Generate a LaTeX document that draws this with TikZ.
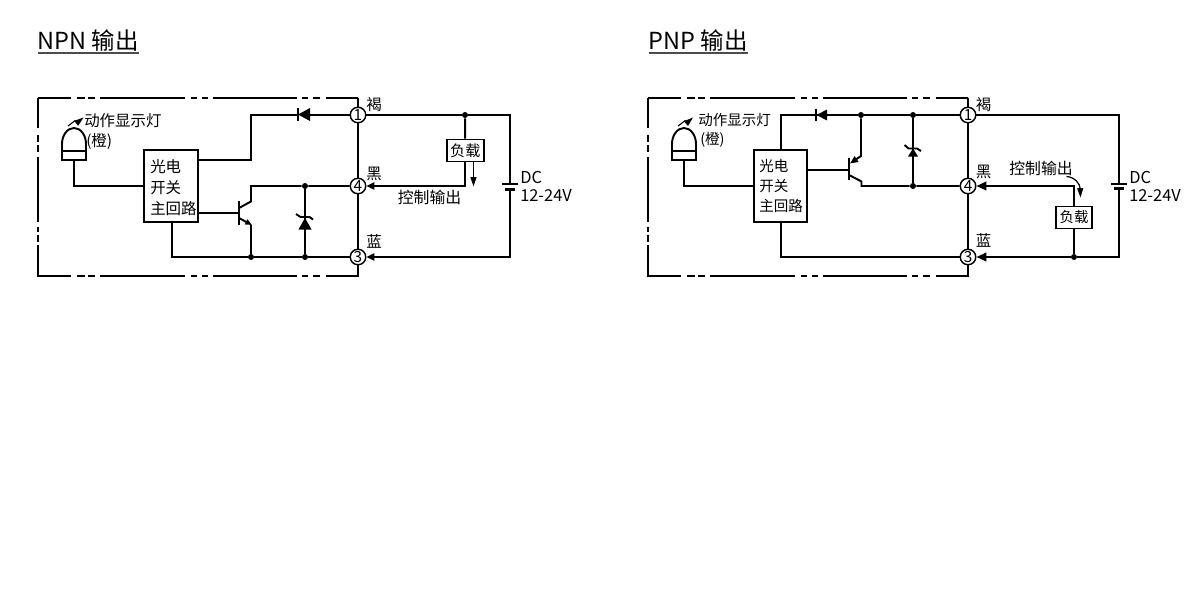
\documentclass[tikz,border=0pt]{standalone}
\usepackage{fontspec}
\setmainfont{Noto Sans CJK SC}
\usetikzlibrary{arrows.meta}
\tikzset{
	wire/.style = {line width=1.45pt, line join=miter},
	wiretip/.style = {wire, -{Triangle[length=6pt,width=5.5pt]}},
	thintip/.style = {line width=0.9pt, -{Triangle[length=7pt,width=4.5pt]}},
	framepart/.style = {line width=1.45pt},
	term/.style = {draw, circle, fill=white, line width=1.1pt, minimum size=15.5*0.75pt, inner sep=0pt, font=\fontsize{11.5}{12}\selectfont},
	dot/.style = {circle, fill=black, minimum size=4.5pt, inner sep=0pt},
	box/.style = {draw, line width=1.45pt, fill=white, inner sep=0pt},
	lbl/.style = {inner sep=0pt, font=\fontsize{11.6}{13}\selectfont},
	lblp/.style = {inner sep=0pt, font=\fontsize{10.9}{13}\selectfont},
	lblout/.style = {inner sep=0pt, font=\fontsize{11.9}{13}\selectfont},
	lbldc/.style = {inner sep=0pt, anchor=west, font=\fontsize{12.3}{13}\selectfont},
	heading/.style = {inner sep=0pt, anchor=base west, font=\fontsize{17.6}{20}\selectfont},
}
\begin{document}
\begin{tikzpicture}[x=0.75pt,y=-0.75pt]
	\useasboundingbox (0,0) rectangle (1200,600);
	% frames
	\foreach \dx in {0,610} {
		\begin{scope}[shift={(\dx,0)}]
			\foreach \a/\b in {38/71,77/85,88/95,100/185,191/197,202/208,213/297,302/308,313/320,326/358} {
				\draw[framepart] (\a,98) -- (\b,98);
				\draw[framepart] (\a,276) -- (\b,276);
			}
			\foreach \a/\b in {97.5/128,135/142,145/152,157/222,227/232,235/242,245/276.5}
				\draw[framepart] (38,\a) -- (38,\b);
			\draw[framepart] (358,97.5) -- (358,276.5);
		\end{scope}
	}

	% NPN
	\node[heading] (titleA) at (37.5,49) {NPN 输出};
	\draw[line width=1pt, black!70] ([yshift=-3pt]titleA.base west) -- ([yshift=-3pt]titleA.base east);

	\node[term] (a1) at (358,115) {1};
	\node[term] (a4) at (358,186) {4};
	\node[term] (a3) at (358,257) {3};
	\node[lbl] (aBrown) at (374,105) {褐};
	\node[lbl] (aBlack) at (374,173.5) {黑};
	\node[lbl] (aBlue) at (374,241) {蓝};
	\node[box, minimum width=40pt, minimum height=54pt] (aMain) at (171,186) {};
	\node[lbl, anchor=west] (aT1) at (150,166.5) {光电};
	\node[lbl, anchor=west] (aT2) at (150,187.5) {开关};
	\node[lbl, anchor=west] (aT3) at (150,208.5) {主回路};
	\node[lbl, anchor=west] (aLed) at (84,121) {动作显示灯};
	\node[lbl, anchor=west] (aOrange) at (86,142) {(橙)};
	% lamp
	\draw[wire] (62,160) -- (62,144) arc (180:360:12 and 16) -- (86,160) -- cycle;
	\draw[wire] (62,151) -- (86,151);
	\coordinate (aLamp) at (74,160);
	\draw[wire] (aLamp) |- (aMain.west);
	\draw[thintip, line width=0.8pt] (68,126) -- (75,120.7) -- (77,122.7) -- (83.5,117.5);
	% diode
	\coordinate (aBend) at (251,115);
	\coordinate (aDiodeK) at (298,115);
	\coordinate (aDiodeA) at (310,115);
	\draw[wire] (aMain.east |- 0,160) -- (251,160) -- (aBend) -- (aDiodeK);
	\draw[wire] (aDiodeA) -- (a1);
	\draw[line width=1.5pt] (298,108) -- (298,121);
	\fill (298,114.5) -- (310,108) -- (310,121) -- cycle;
	% transistor
	\node[dot] (aD1) at (305,186) {};
	\node[dot] (aD2) at (251,257) {};
	\node[dot] (aD3) at (305,257) {};
	\coordinate (aC) at (251,201.5);
	\coordinate (aE) at (251,225);
	\draw[wire] (aMain.east |- 0,213) -- (239,213);
	\draw[line width=1.6pt] (239,201) -- (239,224.5);
	\draw[wire] (239,208) -- (aC) -- (251,186) -- (aD1) -- (a4);
	\draw[wire, -{Triangle[length=5pt,width=4pt]}] (239,218) -- (252,225);
	\draw[wire] (aE) -- (aD2);
	\draw[wire] (aMain.south -| 172,0) -- (172,257) -- (aD2) -- (aD3) -- (a3);
	% zener
	\draw[wire] (aD1) -- (aD3);
	\fill (305,218) -- (311.5,229.5) -- (298.5,229.5) -- cycle;
	\draw[wire] (296,214) -- (300.5,217) -- (309.5,217) -- (313,219.5);
	% load and supply
	\node[dot] (aD4) at (465,115) {};
	\node[box, minimum width=27.5pt, minimum height=16.5pt] (aLoad) at (465.3,150.5) {\fontsize{11.3}{13}\selectfont 负载};
	\coordinate (aSup) at (510,115);
	\coordinate (aP1) at (510,184);
	\coordinate (aP2) at (510,190);
	\coordinate (aLow) at (510,257);
	\draw[wire] (a1) -- (aD4) -- (aSup) -- (aP1);
	\draw[wire] (aD4) -- (aLoad);
	\draw[wiretip] (aLoad.south -| aD4) |- (a4);
	\draw[wiretip] (aP2) -- (aLow) -- (a3);
	\draw[line width=1.5pt] (502,184) -- (518,184);
	\draw[line width=2.4pt] (505,189.5) -- (515,189.5);
	\draw[thintip] (473.5,161.7) -- (473.5,186.5);
	\node[lblout] (aOut) at (429.5,197) {控制输出};
	\node[lbldc] (aDC) at (520,177) {DC};
	\node[lbldc] (aV) at (520,195) {12-24V};

	% PNP
	\node[heading] (titleB) at (648.5,49) {PNP 输出};
	\draw[line width=1pt, black!70] ([yshift=-3pt]titleB.base west) -- ([yshift=-3pt]titleB.base east);

	\node[term] (b1) at (968,115) {1};
	\node[term] (b4) at (968,186) {4};
	\node[term] (b3) at (968,257) {3};
	\node[lbl] (bBrown) at (983.5,105) {褐};
	\node[lbl] (bBlack) at (983.5,172) {黑};
	\node[lbl] (bBlue) at (983.5,240) {蓝};
	\node[box, minimum width=40pt, minimum height=54pt] (bMain) at (780.5,186) {};
	\node[lblp, anchor=west] (bT1) at (759,166) {光电};
	\node[lblp, anchor=west] (bT2) at (759,186) {开关};
	\node[lblp, anchor=west] (bT3) at (759,206) {主回路};
	\node[lblp, anchor=west] (bLed) at (698,120) {动作显示灯};
	\node[lblp, anchor=west] (bOrange) at (700,140) {(橙)};
	% lamp
	\draw[wire] (672,160) -- (672,144) arc (180:360:12 and 16) -- (696,160) -- cycle;
	\draw[wire] (672,151) -- (696,151);
	\coordinate (bLamp) at (684,160);
	\draw[wire] (bLamp) |- (bMain.west);
	\draw[thintip, line width=0.8pt] (678,126) -- (685,120.7) -- (687,122.7) -- (693,117.5);
	% diode
	\node[dot] (bD1) at (861,115) {};
	\node[dot] (bD2) at (913,115) {};
	\node[dot] (bD3) at (913,186) {};
	\draw[wire] (bMain.north -| 781,0) -- (781,115) -- (bD1) -- (bD2) -- (b1);
	\draw[line width=1.5pt] (816,109) -- (816,121);
	\fill (816.5,115) -- (827,109.5) -- (827,120.5) -- cycle;
	% transistor
	\coordinate (bE) at (861,156);
	\coordinate (bC) at (861.5,181.5);
	\draw[wire] (bMain.east |- 0,170) -- (849,170);
	\draw[line width=1.6pt] (849,157.5) -- (849,179.5);
	\draw[wire, -{Triangle[length=6pt,width=5pt]}] (bD1) -- (bE) -- (850,163.5);
	\draw[wire] (849,175) -- (bC) -- (861.5,186) -- (bD3) -- (b4);
	\draw[wire] (bMain.south -| 781,0) -- (781,257) -- (b3);
	% zener
	\draw[wire] (bD2) -- (bD3);
	\fill (913,148.5) -- (918,156.5) -- (908,156.5) -- cycle;
	\draw[wire] (904.5,145) -- (908.5,148.5) -- (917,148.5) -- (921,151);
	% load and supply
	\node[dot] (bD4) at (1074,257) {};
	\node[box, minimum width=27.5pt, minimum height=16.5pt] (bLoad) at (1074,217.5) {\fontsize{10.8}{13}\selectfont 负载};
	\coordinate (bSup) at (1119,115);
	\coordinate (bP1) at (1119,183.5);
	\coordinate (bP2) at (1119,189);
	\coordinate (bLow) at (1119,257);
	\draw[wire] (b1) -- (bSup) -- (bP1);
	\draw[wire, -{Triangle[length=7.5pt,width=6.5pt]}] (bLoad.north -| bD4) |- (b4);
	\draw[wire] (bLoad.south -| bD4) -- (bD4);
	\draw[wire, -{Triangle[length=7.5pt,width=6.5pt]}] (bP2) -- (bLow) -- (bD4) -- (b3);
	\draw[line width=1.5pt] (1111,183.5) -- (1126.5,183.5);
	\draw[line width=2.4pt] (1114,188.5) -- (1123.5,188.5);
	\draw[thintip] (1066.5,176.5) .. controls (1075,177) and (1080,184) .. (1080.5,197.5);
	\node[lblout] (bOut) at (1041,168) {控制输出};
	\node[lbldc] (bDC) at (1129,177) {DC};
	\node[lbldc] (bV) at (1129,195) {12-24V};
\end{tikzpicture}
\end{document}
